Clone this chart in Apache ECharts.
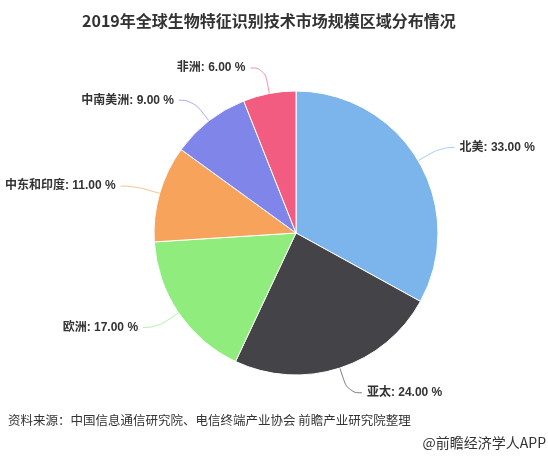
<!DOCTYPE html>
<html>
<head>
<meta charset="utf-8">
<script src="https://cdn.jsdelivr.net/npm/echarts@6/dist/echarts.min.js"></script>
<style>
  html, body { margin: 0; padding: 0; background: #fff; }
  #main { width: 548px; height: 461px; }
</style>
</head>
<body>
<div id="main"></div>
<script>
// 区域名称与占比 (%)
const regions = ['北美', '亚太', '欧洲', '中东和印度', '中南美洲', '非洲']
const shares = [33, 24, 17, 11, 9, 6]
const colors = ['#7cb5ec', '#434348', '#90ed7d', '#f7a35c', '#8085e9', '#f15c80']

const chart = echarts.init(document.getElementById('main'))
const font = '"Noto Sans CJK SC", "Microsoft YaHei", sans-serif'
const labelFont = '"Liberation Sans", Arial, "Noto Sans CJK SC", sans-serif'

chart.setOption({
    color: colors,
    title: [{
        text: '2019年全球生物特征识别技术市场规模区域分布情况',
        left: 77,
        top: 8,
        textStyle: { fontSize: 16, fontWeight: 'bold', color: '#333', fontFamily: font }
    }],
    graphic: [
        {
            type: 'text', left: 8, top: 414,
            style: { text: '资料来源：中国信息通信研究院、电信终端产业协会 前瞻产业研究院整理', fill: '#333', font: '12.5px ' + font }
        },
        {
            type: 'text', right: 2, top: 436,
            style: { text: '@前瞻经济学人APP', fill: '#333', font: '14px ' + font }
        }
    ],
    series: [{
        type: 'pie',
        center: [296, 233],
        radius: 142,
        startAngle: 90,
        clockwise: true,
        itemStyle: { borderColor: '#fff', borderWidth: 1 },
        label: {
            formatter: p => p.name + ': ' + p.value.toFixed(2) + ' %',
            fontSize: 12,
            fontWeight: 'bold',
            color: '#333',
            fontFamily: labelFont,
            overflow: 'none',
            edgeDistance: 0
        },
        labelLine: {
            length: 26,
            length2: 14,
            smooth: 0.5,
            lineStyle: { width: 1, opacity: 0.7 }
        },
        data: regions.map((r, i) => ({ name: r, value: shares[i] }))
    }]
})
</script>
</body>
</html>
